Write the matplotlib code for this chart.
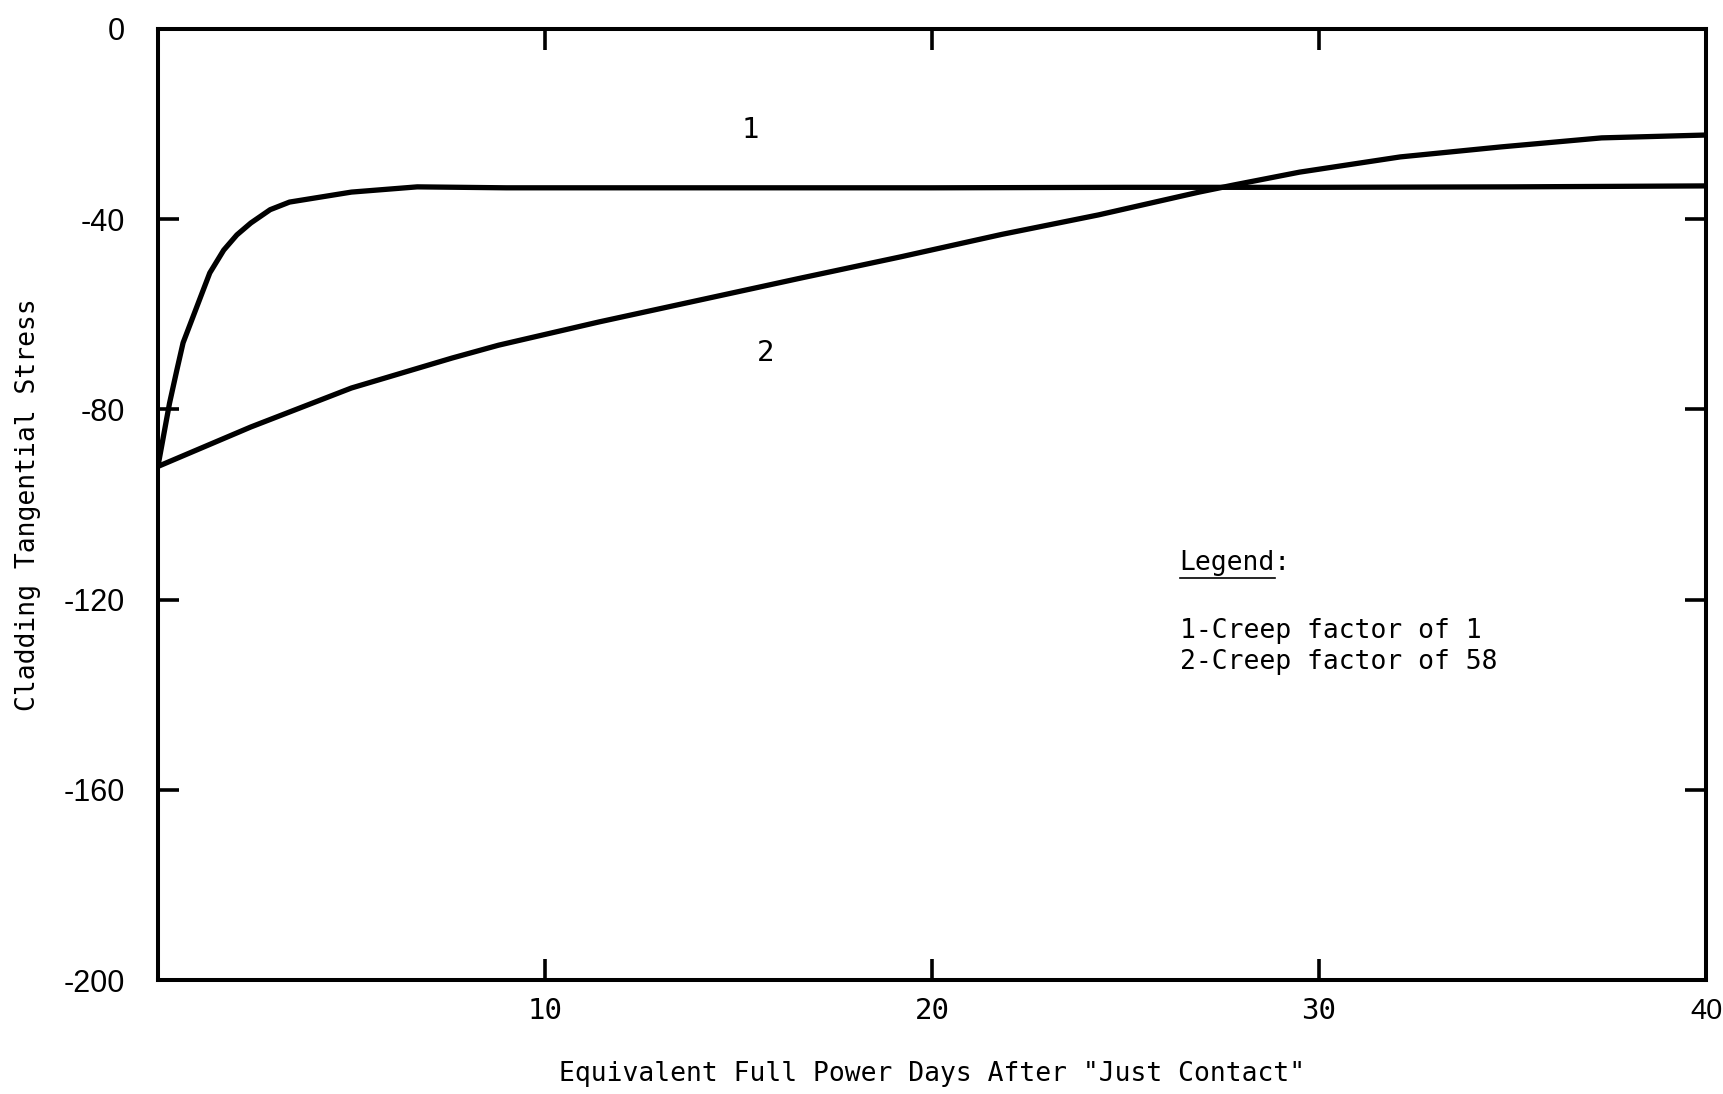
import matplotlib
matplotlib.use("Agg")
import matplotlib.pyplot as plt
from matplotlib.lines import Line2D

# ---- data ----
days_1 = [0, 0.3, 0.49, 0.65, 1.1, 1.34, 1.7, 2.04, 2.4, 2.9, 3.4, 5.0, 6.7, 9.0,
          15, 20, 25, 30, 35, 40]
stress_1 = [-92, -78.7, -71.7, -66, -56.4, -51.3, -46.5, -43.3, -40.8, -38.0, -36.4,
            -34.3, -33.2, -33.4, -33.4, -33.4, -33.3, -33.3, -33.2, -33.0]

days_2 = [0, 2.4, 5.0, 7.6, 8.8, 11.4, 14.0, 16.6, 19.2, 21.8, 24.3, 26.9, 27.8,
          29.5, 32.1, 34.7, 37.3, 40]
stress_2 = [-92, -83.7, -75.5, -69.2, -66.5, -61.6, -57.0, -52.4, -47.9, -43.2,
            -39.1, -34.3, -32.8, -30.1, -26.9, -24.8, -22.9, -22.3]

x_ticks = [10, 20, 30, 40]
x_tick_labels = ["10", "20", "30", "40"]
y_ticks = [0, -40, -80, -120, -160, -200]
y_tick_labels = ["0", "-40", "-80", "-120", "-160", "-200"]

legend_lines = ["1-Creep factor of 1", "2-Creep factor of 58"]

MONO = "DejaVu Sans Mono"
SANS = "Liberation Sans"
INK = "black"

fig = plt.figure(figsize=(17.24, 10.94), dpi=100)
ax = fig.add_axes([0.0916, 0.1042, 0.898, 0.8693])

for xs, ys in ((days_1, stress_1), (days_2, stress_2)):
    ax.plot(xs, ys, color=INK, lw=3.8, solid_capstyle="round", solid_joinstyle="round")

ax.set_xlim(0, 40)
ax.set_ylim(-200, 0)

for s in ax.spines.values():
    s.set_linewidth(2.9)
    s.set_color(INK)

ax.set_xticks(x_ticks)
ax.set_xticklabels(x_tick_labels, fontsize=21, family=MONO)
ax.get_xticklabels()[-1].set_family(SANS)
ax.set_yticks(y_ticks)
ax.set_yticklabels(y_tick_labels, fontsize=22, family=SANS)
ax.tick_params(direction="in", length=15, width=2.6, top=True, right=True)
ax.tick_params(axis="x", pad=12)
ax.tick_params(axis="y", pad=24)

ax.set_xlabel('Equivalent Full Power Days After "Just Contact"', fontsize=19,
              family=MONO, labelpad=26)
ax.set_ylabel("Cladding Tangential Stress", fontsize=19, family=MONO, labelpad=16)

# curve labels
ax.text(15.3, -21.2, "1", fontsize=21, family=MONO, ha="center", va="center")
ax.text(15.7, -68.1, "2", fontsize=21, family=MONO, ha="center", va="center")

# hand-made legend block
ax.text(26.4, -112.3, "Legend:", fontsize=19, family=MONO, ha="left", va="center")
ax.text(26.4, -129.8, "\n".join(legend_lines), fontsize=19, family=MONO,
        ha="left", va="center", linespacing=1.25)

# underline the word "Legend" (measured with a temporary text)
tmp = ax.text(26.4, -112.3, "Legend", fontsize=19, family=MONO, ha="left", va="center")
fig.canvas.draw()
bb = tmp.get_window_extent().transformed(fig.transFigure.inverted())
tmp.remove()
fig.add_artist(Line2D([bb.x0, bb.x1], [bb.y0 - 0.002, bb.y0 - 0.002],
                      transform=fig.transFigure, color=INK, lw=1.2))

fig.savefig("out.png", dpi=100)
